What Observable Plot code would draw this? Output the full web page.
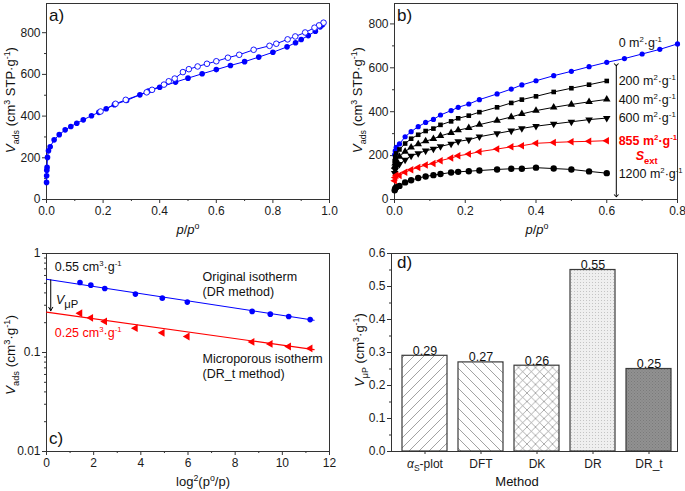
<!DOCTYPE html>
<html><head><meta charset="utf-8">
<script src="https://cdn.jsdelivr.net/npm/d3@7"></script>
<script src="https://cdn.jsdelivr.net/npm/@observablehq/plot@0.6"></script>
<style>
body{margin:0;background:#fff;}
#wrap{position:relative;width:685px;height:491px;overflow:hidden;}
</style></head><body><div id="wrap"></div>
<svg width="0" height="0" style="position:absolute">
 <defs>
  <pattern id="patR" patternUnits="userSpaceOnUse" width="10" height="10">
   <rect width="10" height="10" fill="#fff"/>
   <path d="M-1,1 l2,-2 M0,10 l10,-10 M9,11 l2,-2" stroke="#8a8a8a" stroke-width="0.8"/>
  </pattern>
  <pattern id="patL" patternUnits="userSpaceOnUse" width="10" height="10">
   <rect width="10" height="10" fill="#fff"/>
   <path d="M-1,9 l2,2 M0,0 l10,10 M9,-1 l2,2" stroke="#8a8a8a" stroke-width="0.8"/>
  </pattern>
  <pattern id="patX" patternUnits="userSpaceOnUse" width="8.5" height="8.5">
   <rect width="8.5" height="8.5" fill="#fff"/>
   <path d="M0,0 L8.5,8.5 M0,8.5 L8.5,0" stroke="#8a8a8a" stroke-width="0.7"/>
  </pattern>
  <pattern id="patD" patternUnits="userSpaceOnUse" width="3" height="3">
   <rect width="3" height="3" fill="#efefef"/>
   <rect width="1" height="1" fill="#c4c4c4"/>
  </pattern>
  <pattern id="patG" patternUnits="userSpaceOnUse" width="3" height="3">
   <rect width="3" height="3" fill="#919191"/>
   <rect width="1" height="1" fill="#7a7a7a"/>
   <rect x="1.5" y="1.5" width="1" height="1" fill="#7f7f7f"/>
  </pattern>
 </defs>
</svg>
<script>
// ---------------- DATA ----------------
// a) N2 isotherm: adsorption (filled) and desorption (open)
const adsP = [0.0002,0.0005,0.001,0.002,0.0035,0.007,0.013,0.027,0.045,0.066,0.086,0.107,0.13,0.159,0.185,0.211,0.24,0.283,0.33,0.36,0.40,0.456,0.50,0.55,0.60,0.65,0.70,0.75,0.80,0.85,0.88,0.90,0.925,0.95,0.967,0.975];
const adsV = [82,114,140,154,202,234,253,286,311,334,350,366,382,402,418,435,455,475,502,520,538,563,582,603,623,643,661,683,706,732,752,767,786,807,828,838];
const desP = [0.979,0.963,0.947,0.914,0.879,0.852,0.812,0.788,0.732,0.681,0.641,0.60,0.567,0.534,0.503,0.482,0.453,0.432,0.415,0.373,0.354,0.28,0.244,0.191];
const desV = [848,835,824,801,782,768,747,737,718,694,680,663,651,638,625,611,580,567,551,526,514,478,459,422];

// b) isotherms after subtraction of external surface
const pB = [0.0005,0.002,0.005,0.014,0.03,0.047,0.067,0.088,0.11,0.13,0.16,0.18,0.21,0.24,0.29,0.33,0.36,0.40,0.45,0.50,0.55,0.60];
const pB0 = [0.0005,0.002,0.005,0.014,0.03,0.047,0.067,0.088,0.11,0.13,0.16,0.18,0.21,0.24,0.29,0.33,0.36,0.40,0.45,0.50,0.55,0.60,0.65,0.70,0.75,0.80];
const vB0    = [205,222,238,253,286,309,332,351,365,385,405,420,435,455,481,503,522,541,564,584,605,625,642,663,684,709];
const vB200  = [175,195,210,228,255,277,295,312,323,340,356,370,382,398,420,440,455,470,490,507,523,540];
const vB400  = [150,165,180,196,218,238,252,266,276,290,304,316,326,341,360,376,390,405,420,433,445,456];
const vB600  = [120,135,148,161,180,199,210,222,230,242,253,265,272,286,301,313,324,334,344,354,364,371];
const vB855  = [85,100,110,110,124,136,146,157,164,177,189,199,207,218,230,240,245,256,260,263,265,268];
const vB1200 = [42,50,56,62,78,88,98,105,111,116,123,126,129,132,137,140,140,145,141,137,128,120];
const sextLabels = ["0","200","400","600","855","1200"];
const sextLabelV = [692,521,432,350,244,94];

// c) DR plot
const drX = [1.42,1.88,2.47,3.77,4.91,5.97,8.72,9.49,10.27,11.18];
const drOrig = [0.509,0.479,0.443,0.389,0.354,0.323,0.260,0.244,0.231,0.215];
const drMicro = [0.249,0.224,0.206,0.176,0.158,0.145,0.128,0.122,0.115,0.110];
const fitX = [0, 11.35];
const fitOrig = [0.55, 0.212];
const fitMicro = [0.256, 0.107];

// d) micropore volume by method
const methods = ["αS-plot","DFT","DK","DR","DR_t"];
const vmp = [0.29,0.27,0.26,0.55,0.25];

// ---------------- HELPERS ----------------
const FONT = '"Liberation Sans", Arial, Helvetica, sans-serif';
const BLUE = "#0000ff", RED = "#ff0000", AX = "#333";
const wrap = document.getElementById("wrap");
const style = {fontFamily: FONT, fontSize: "12px", color: "#1a1a1a", background: "transparent", overflow: "visible"};
function place(svg, left, top) {
  svg.style.position = "absolute"; svg.style.left = left + "px"; svg.style.top = top + "px";
  svg.style.maxWidth = "none";
  wrap.appendChild(svg);
}
function rich(svg, x, y, parts, o = {}) {
  const size = o.size || 12;
  const t = d3.select(svg).append("text").attr("x", x).attr("y", y)
    .attr("font-size", size).attr("fill", o.fill || "#111")
    .attr("text-anchor", o.anchor || "start").attr("font-family", FONT);
  if (o.weight) t.attr("font-weight", o.weight);
  if (o.rotate) t.attr("transform", `rotate(${o.rotate} ${x} ${y})`);
  let cur = 0;
  for (const [s, k = ""] of parts) {
    const ks = k.split(" ");
    const sup = ks.includes("sup"), sub = ks.includes("sub");
    const fs = (sup || sub) ? size * (o.small || 0.68) : size;
    const off = sup ? -0.4 * size : sub ? 0.3 * size : 0;
    const ts = t.append("tspan").attr("dy", off - cur).attr("font-size", fs).text(s);
    cur = off;
    if (ks.includes("i")) ts.attr("font-style", "italic");
    if (ks.includes("b")) ts.attr("font-weight", "bold");
  }
  return t;
}
const rng = (a, b, s) => d3.range(Math.round(a / s), Math.round(b / s) + 1).map(i => +(i * s).toFixed(6));
const minorOf = (a, b, s) => rng(a, b, s / 2).filter((v, i) => i % 2 === 1);
function axes(xt, xm, yt, ym, xf, yf) {
  return [
    Plot.axisX({ticks: xt, tickSize: 4, tickPadding: 3, tickFormat: xf, label: null, stroke: AX}),
    Plot.axisX({ticks: xm, tickSize: 2, tickFormat: () => "", label: null, stroke: AX}),
    Plot.axisY({ticks: yt, tickSize: 4, tickPadding: 2, tickFormat: yf, label: null, stroke: AX}),
    Plot.axisY({ticks: ym, tickSize: 2, tickFormat: () => "", label: null, stroke: AX}),
    Plot.frame({stroke: AX, strokeWidth: 1})
  ];
}
const VADS = [["V", "i"], ["ads", "sub"], [" (cm"], ["3", "sup"], [" STP·g"], ["-1", "sup"], [")"]];
const PP = [["p", "i"], ["/"], ["p", "i"], ["o", "sup"]];

// ---------------- PANEL A ----------------
const ads = adsP.map((p, i) => ({p, v: adsV[i]}));
const des = desP.map((p, i) => ({p, v: desV[i]}));
const A = Plot.plot({
  width: 340, height: 240, marginLeft: 46, marginRight: 11, marginTop: 3, marginBottom: 41,
  x: {domain: [0, 1], label: null}, y: {domain: [0, 940], label: null}, style,
  marks: [
    ...axes(rng(0, 1, 0.2), minorOf(0, 1, 0.2), rng(0, 800, 200), minorOf(0, 800, 200), d3.format(".1f"), d3.format("d")),
    Plot.line(ads, {x: "p", y: "v", stroke: BLUE, strokeWidth: 1}),
    Plot.line(des, {x: "p", y: "v", stroke: BLUE, strokeWidth: 1}),
    Plot.dot(ads, {x: "p", y: "v", r: 2.8, fill: BLUE}),
    Plot.dot(des, {x: "p", y: "v", r: 2.8, fill: "#fff", stroke: BLUE, strokeWidth: 0.9})
  ]
});
place(A, 0, 0);
rich(A, 15, 100, VADS, {size: 13, anchor: "middle", rotate: -90});
rich(A, 188, 234, PP, {size: 13, anchor: "middle"});
rich(A, 49, 21, [["a)"]], {size: 17});

// ---------------- PANEL B ----------------
const mkS = (ps, vs) => ps.slice(0, vs.length).map((p, i) => ({p, v: vs[i]}));
const seriesB = [
  {d: mkS(pB0, vB0), c: BLUE, sym: "circle", r: 2.6, rot: 0},
  {d: mkS(pB, vB200), c: "#000", sym: "square", r: 2.6, rot: 0},
  {d: mkS(pB, vB400), c: "#000", sym: "triangle", r: 2.8, rot: 0},
  {d: mkS(pB, vB600), c: "#000", sym: "triangle", r: 2.8, rot: 180},
  {d: mkS(pB, vB855), c: RED, sym: "triangle", r: 2.8, rot: -90},
  {d: mkS(pB, vB1200), c: "#000", sym: "circle", r: 3.2, rot: 0}
];
const arrowB = [{x: 0.627, y1: 614, y2: 17}];
const B = Plot.plot({
  width: 345, height: 240, marginLeft: 54, marginRight: 8, marginTop: 3, marginBottom: 41,
  x: {domain: [0, 0.8], label: null}, y: {domain: [0, 893], label: null}, style,
  marks: [
    ...axes(rng(0, 0.8, 0.2), minorOf(0, 0.8, 0.2), rng(0, 800, 200), minorOf(0, 800, 200), d3.format(".1f"), d3.format("d")),
    ...seriesB.flatMap(s => [
      Plot.line(s.d, {x: "p", y: "v", stroke: s.c, strokeWidth: 1}),
      Plot.dot(s.d, {x: "p", y: "v", r: s.r, symbol: s.sym, fill: s.c, rotate: s.rot, stroke: "none"})
    ]),
    Plot.link(arrowB, {x1: "x", x2: "x", y1: "y1", y2: "y2", stroke: "#000", strokeWidth: 1, markerStart: "arrow", markerEnd: "arrow"})
  ]
});
place(B, 340, 0);
{
  const sx = B.scale("x"), sy = B.scale("y");
  sextLabels.forEach((s, i) => {
    const red = s === "855";
    rich(B, sx.apply(0.635), sy.apply(sextLabelV[i]), [[s + " m"], ["2", "sup"], ["·g"], ["-1", "sup"]],
      {size: 12.5, fill: red ? RED : "#111", weight: red ? "bold" : null, small: 0.62});
  });
  rich(B, sx.apply(0.714), sy.apply(177), [["S", "i"], ["ext", "sub"]], {size: 12.5, fill: RED, weight: "bold", anchor: "middle", small: 0.75});
}
rich(B, 22, 100, VADS, {size: 13, anchor: "middle", rotate: -90});
rich(B, 197, 234, PP, {size: 13, anchor: "middle"});
rich(B, 57, 21, [["b)"]], {size: 17});

// ---------------- PANEL C ----------------
const origPts = drX.map((x, i) => ({x, v: drOrig[i]}));
const microPts = drX.map((x, i) => ({x, v: drMicro[i]}));
const fitO = fitX.map((x, i) => ({x, v: fitOrig[i]}));
const fitM = fitX.map((x, i) => ({x, v: fitMicro[i]}));
const arrowC = [{x: 0.18, y1: 0.542, y2: 0.264}];
const logMinor = [2,3,4,5,6,7,8,9].flatMap(k => [k * 0.01, k * 0.1]).map(v => +v.toFixed(4));
const C = Plot.plot({
  width: 340, height: 251, marginLeft: 46, marginRight: 11, marginTop: 13, marginBottom: 40,
  x: {domain: [0, 12], label: null}, y: {type: "log", domain: [0.01, 1], label: null}, style,
  marks: [
    ...axes(rng(0, 12, 2), minorOf(0, 12, 2), [0.01, 0.1, 1], logMinor, d3.format("d"), d => String(d)),
    Plot.line(fitO, {x: "x", y: "v", stroke: BLUE, strokeWidth: 1.1}),
    Plot.line(fitM, {x: "x", y: "v", stroke: RED, strokeWidth: 1.1}),
    Plot.dot(origPts, {x: "x", y: "v", r: 2.8, fill: BLUE}),
    Plot.dot(microPts, {x: "x", y: "v", r: 2.9, symbol: "triangle", rotate: -90, fill: RED}),
    Plot.arrow(arrowC, {x1: "x", x2: "x", y1: "y1", y2: "y2", stroke: "#000", strokeWidth: 1, headLength: 6})
  ]
});
place(C, 0, 240);
{
  const sx = C.scale("x"), sy = C.scale("y");
  rich(C, sx.apply(0.37), sy.apply(0.656), [["0.55 cm"], ["3", "sup"], ["·g"], ["-1", "sup"]], {size: 12.5, small: 0.62});
  rich(C, sx.apply(0.37), sy.apply(0.1425), [["0.25 cm"], ["3", "sup"], ["·g"], ["-1", "sup"]], {size: 12.5, fill: RED, small: 0.62});
  rich(C, sx.apply(0.42), sy.apply(0.303), [["V", "i"], ["μP", "sub"]], {size: 12.5, small: 0.9});
  rich(C, sx.apply(6.64), sy.apply(0.524), [["Original isotherm"]], {size: 12.5});
  rich(C, sx.apply(6.64), sy.apply(0.365), [["(DR method)"]], {size: 12.5});
  rich(C, sx.apply(6.64), sy.apply(0.0778), [["Microporous isotherm"]], {size: 12.5});
  rich(C, sx.apply(6.64), sy.apply(0.0549), [["(DR_t method)"]], {size: 12.5});
}
rich(C, 15, 115, [["V", "i"], ["ads", "sub"], [" (cm"], ["3", "sup"], ["·g"], ["-1", "sup"], [")"]], {size: 13.5, anchor: "middle", rotate: -90});
rich(C, 203, 246, [["log"], ["2", "sup"], ["(p"], ["o", "sup"], ["/p)"]], {size: 13, anchor: "middle"});
rich(C, 49, 204, [["c)"]], {size: 17});

// ---------------- PANEL D ----------------
const patFor = {"αS-plot": "url(#patR)", "DFT": "url(#patL)", "DK": "url(#patX)", "DR": "url(#patD)", "DR_t": "url(#patG)"};
const barsD = methods.map((m, i) => ({m, v: vmp[i]}));
const D = Plot.plot({
  width: 345, height: 251, marginLeft: 51, marginRight: 8, marginTop: 13, marginBottom: 40,
  x: {type: "band", domain: methods, range: [61, 331.7], paddingInner: 0.2, paddingOuter: 0, label: null},
  y: {domain: [0, 0.6], label: null},
  color: {type: "identity"}, style,
  marks: [
    Plot.barY(barsD, {x: "m", y: "v", fill: d => patFor[d.m], stroke: "#3a3a3a", strokeWidth: 1.2}),
    Plot.text(barsD, {x: "m", y: "v", text: d => d.v.toFixed(2), lineAnchor: "bottom", dy: -1, fontSize: 12.5, fill: "#111"}),
    Plot.axisX({tickSize: 3, tickPadding: 5, label: null, stroke: AX}),
    Plot.axisY({ticks: rng(0, 0.6, 0.1), tickSize: 4, tickPadding: 2, tickFormat: d3.format(".1f"), label: null, stroke: AX}),
    Plot.axisY({ticks: minorOf(0, 0.6, 0.1), tickSize: 2, tickFormat: () => "", label: null, stroke: AX}),
    Plot.frame({stroke: AX, strokeWidth: 1})
  ]
});
place(D, 340, 240);
d3.select(D).selectAll("text").filter(function() { return this.textContent === "αS-plot"; }).each(function() {
  const t = d3.select(this); t.text(null);
  t.append("tspan").attr("font-style", "italic").text("α");
  t.append("tspan").attr("dy", 3).attr("font-size", 8.5).text("S");
  t.append("tspan").attr("dy", -3).text("-plot");
});
rich(D, 24, 110, [["V", "i"], ["μP", "sub"], [" (cm"], ["3", "sup"], ["·g"], ["-1", "sup"], [")"]], {size: 13, anchor: "middle", rotate: -90});
rich(D, 177, 246, [["Method"]], {size: 13, anchor: "middle"});
rich(D, 57, 28, [["d)"]], {size: 17});
</script>
</body></html>
